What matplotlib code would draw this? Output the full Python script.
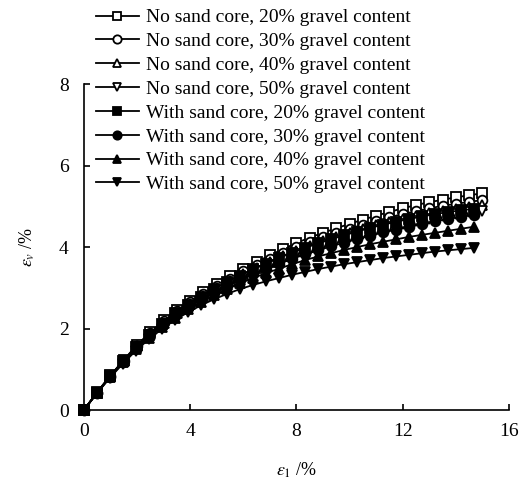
import matplotlib
matplotlib.use("Agg")
import matplotlib.pyplot as plt

plt.rcParams["font.family"] = ["Liberation Serif", "DejaVu Serif"]
plt.rcParams["mathtext.fontset"] = "stix"

# axial strain (%) - two loading grids
x_ns = [0.0, 0.5, 1.0, 1.5, 2.0, 2.5, 3.0, 3.5, 4.0, 4.5, 5.0, 5.5, 6.0, 6.5, 7.0, 7.5,
        8.0, 8.5, 9.0, 9.5, 10.0, 10.5, 11.0, 11.5, 12.0, 12.5, 13.0, 13.5, 14.0, 14.5, 15.0]
x_ws = [0.0, 0.49, 0.98, 1.47, 1.96, 2.45, 2.94, 3.43, 3.92, 4.41, 4.9, 5.39, 5.88, 6.37,
        6.86, 7.35, 7.84, 8.33, 8.82, 9.31, 9.8, 10.29, 10.78, 11.27, 11.76, 12.25, 12.74,
        13.23, 13.72, 14.21, 14.7]

# volumetric strain (%)
ns20 = [0, 0.44, 0.85, 1.23, 1.60, 1.91, 2.20, 2.45, 2.68, 2.90, 3.10, 3.29, 3.46, 3.63, 3.80, 3.95,
        4.10, 4.23, 4.35, 4.46, 4.57, 4.67, 4.77, 4.86, 4.95, 5.03, 5.10, 5.16, 5.22, 5.27, 5.32]
ns30 = [0, 0.43, 0.84, 1.21, 1.58, 1.89, 2.18, 2.42, 2.64, 2.85, 3.04, 3.22, 3.40, 3.56, 3.71, 3.86,
        4.00, 4.12, 4.24, 4.35, 4.45, 4.55, 4.64, 4.73, 4.81, 4.88, 4.95, 5.01, 5.06, 5.11, 5.15]
ns40 = [0, 0.43, 0.83, 1.20, 1.56, 1.86, 2.14, 2.39, 2.60, 2.80, 2.99, 3.17, 3.33, 3.49, 3.64, 3.78,
        3.91, 4.03, 4.14, 4.25, 4.35, 4.45, 4.54, 4.62, 4.70, 4.77, 4.83, 4.89, 4.94, 4.98, 5.02]
ns50 = [0, 0.43, 0.82, 1.19, 1.54, 1.84, 2.11, 2.35, 2.56, 2.76, 2.94, 3.11, 3.27, 3.42, 3.56, 3.69,
        3.82, 3.93, 4.04, 4.14, 4.24, 4.33, 4.41, 4.49, 4.56, 4.63, 4.69, 4.75, 4.80, 4.85, 4.89]
ws20 = [0, 0.43, 0.83, 1.20, 1.55, 1.85, 2.12, 2.37, 2.58, 2.78, 2.97, 3.14, 3.30, 3.45, 3.59, 3.73,
        3.86, 3.98, 4.09, 4.19, 4.29, 4.38, 4.47, 4.55, 4.62, 4.69, 4.75, 4.81, 4.86, 4.90, 4.94]
ws30 = [0, 0.42, 0.82, 1.18, 1.52, 1.81, 2.07, 2.31, 2.51, 2.70, 2.88, 3.04, 3.19, 3.33, 3.47, 3.59,
        3.71, 3.82, 3.92, 4.02, 4.11, 4.20, 4.28, 4.36, 4.43, 4.50, 4.57, 4.63, 4.69, 4.74, 4.79]
ws40 = [0, 0.42, 0.81, 1.17, 1.50, 1.78, 2.04, 2.27, 2.47, 2.65, 2.82, 2.97, 3.11, 3.24, 3.36, 3.47,
        3.58, 3.68, 3.77, 3.85, 3.93, 4.00, 4.07, 4.13, 4.19, 4.25, 4.30, 4.35, 4.40, 4.45, 4.50]
ws50 = [0, 0.41, 0.79, 1.14, 1.46, 1.74, 1.99, 2.21, 2.40, 2.57, 2.72, 2.85, 2.97, 3.07, 3.16, 3.24,
        3.32, 3.39, 3.46, 3.52, 3.58, 3.63, 3.68, 3.73, 3.77, 3.81, 3.85, 3.89, 3.92, 3.95, 3.98]

labels = [
    "No sand core, 20% gravel content",
    "No sand core, 30% gravel content",
    "No sand core, 40% gravel content",
    "No sand core, 50% gravel content",
    "With sand core, 20% gravel content",
    "With sand core, 30% gravel content",
    "With sand core, 40% gravel content",
    "With sand core, 50% gravel content",
]

series = [
    (x_ns, ns20, "s", "white"),
    (x_ns, ns30, "o", "white"),
    (x_ns, ns40, "^", "white"),
    (x_ns, ns50, "v", "white"),
    (x_ws, ws20, "s", "black"),
    (x_ws, ws30, "o", "black"),
    (x_ws, ws40, "^", "black"),
    (x_ws, ws50, "v", "black"),
]

fig = plt.figure(figsize=(5.21, 4.87), dpi=100)
ax = fig.add_axes([0.161, 0.158, 0.816, 0.6695])

for (xs, ys, mk, face), lab in zip(series, labels):
    ax.plot(xs, ys, color="black", lw=1.3, marker=mk, markersize=7,
            markerfacecolor=face, markeredgecolor="black", markeredgewidth=1.3,
            label=lab, clip_on=False)

ax.set_xlim(0, 16)
ax.set_ylim(0, 8)
ax.set_xticks([0, 4, 8, 12, 16])
ax.set_yticks([0, 2, 4, 6, 8])
ax.spines["top"].set_visible(False)
ax.spines["right"].set_visible(False)
for s in ["left", "bottom"]:
    ax.spines[s].set_linewidth(1.2)
ax.tick_params(direction="in", length=4, width=1.2, labelsize=14)
ax.tick_params(axis="y", pad=11)
ax.tick_params(axis="x", pad=9)

ax.set_xlabel(r"$\varepsilon_1$ /%", fontsize=13)
ax.set_ylabel(r"$\varepsilon_v$ /%", fontsize=13)
ax.xaxis.set_label_coords(0.5, -0.155)
ax.yaxis.set_label_coords(-0.11, 0.5)

leg = fig.legend(loc="upper left", bbox_to_anchor=(0.158, 1.01), frameon=False,
                 fontsize=14, numpoints=1, handlelength=2.2, handletextpad=0.4,
                 labelspacing=0.32, borderpad=0.2)
for h in leg.legend_handles:
    h.set_markersize(6)

fig.savefig("out.png", dpi=100)
